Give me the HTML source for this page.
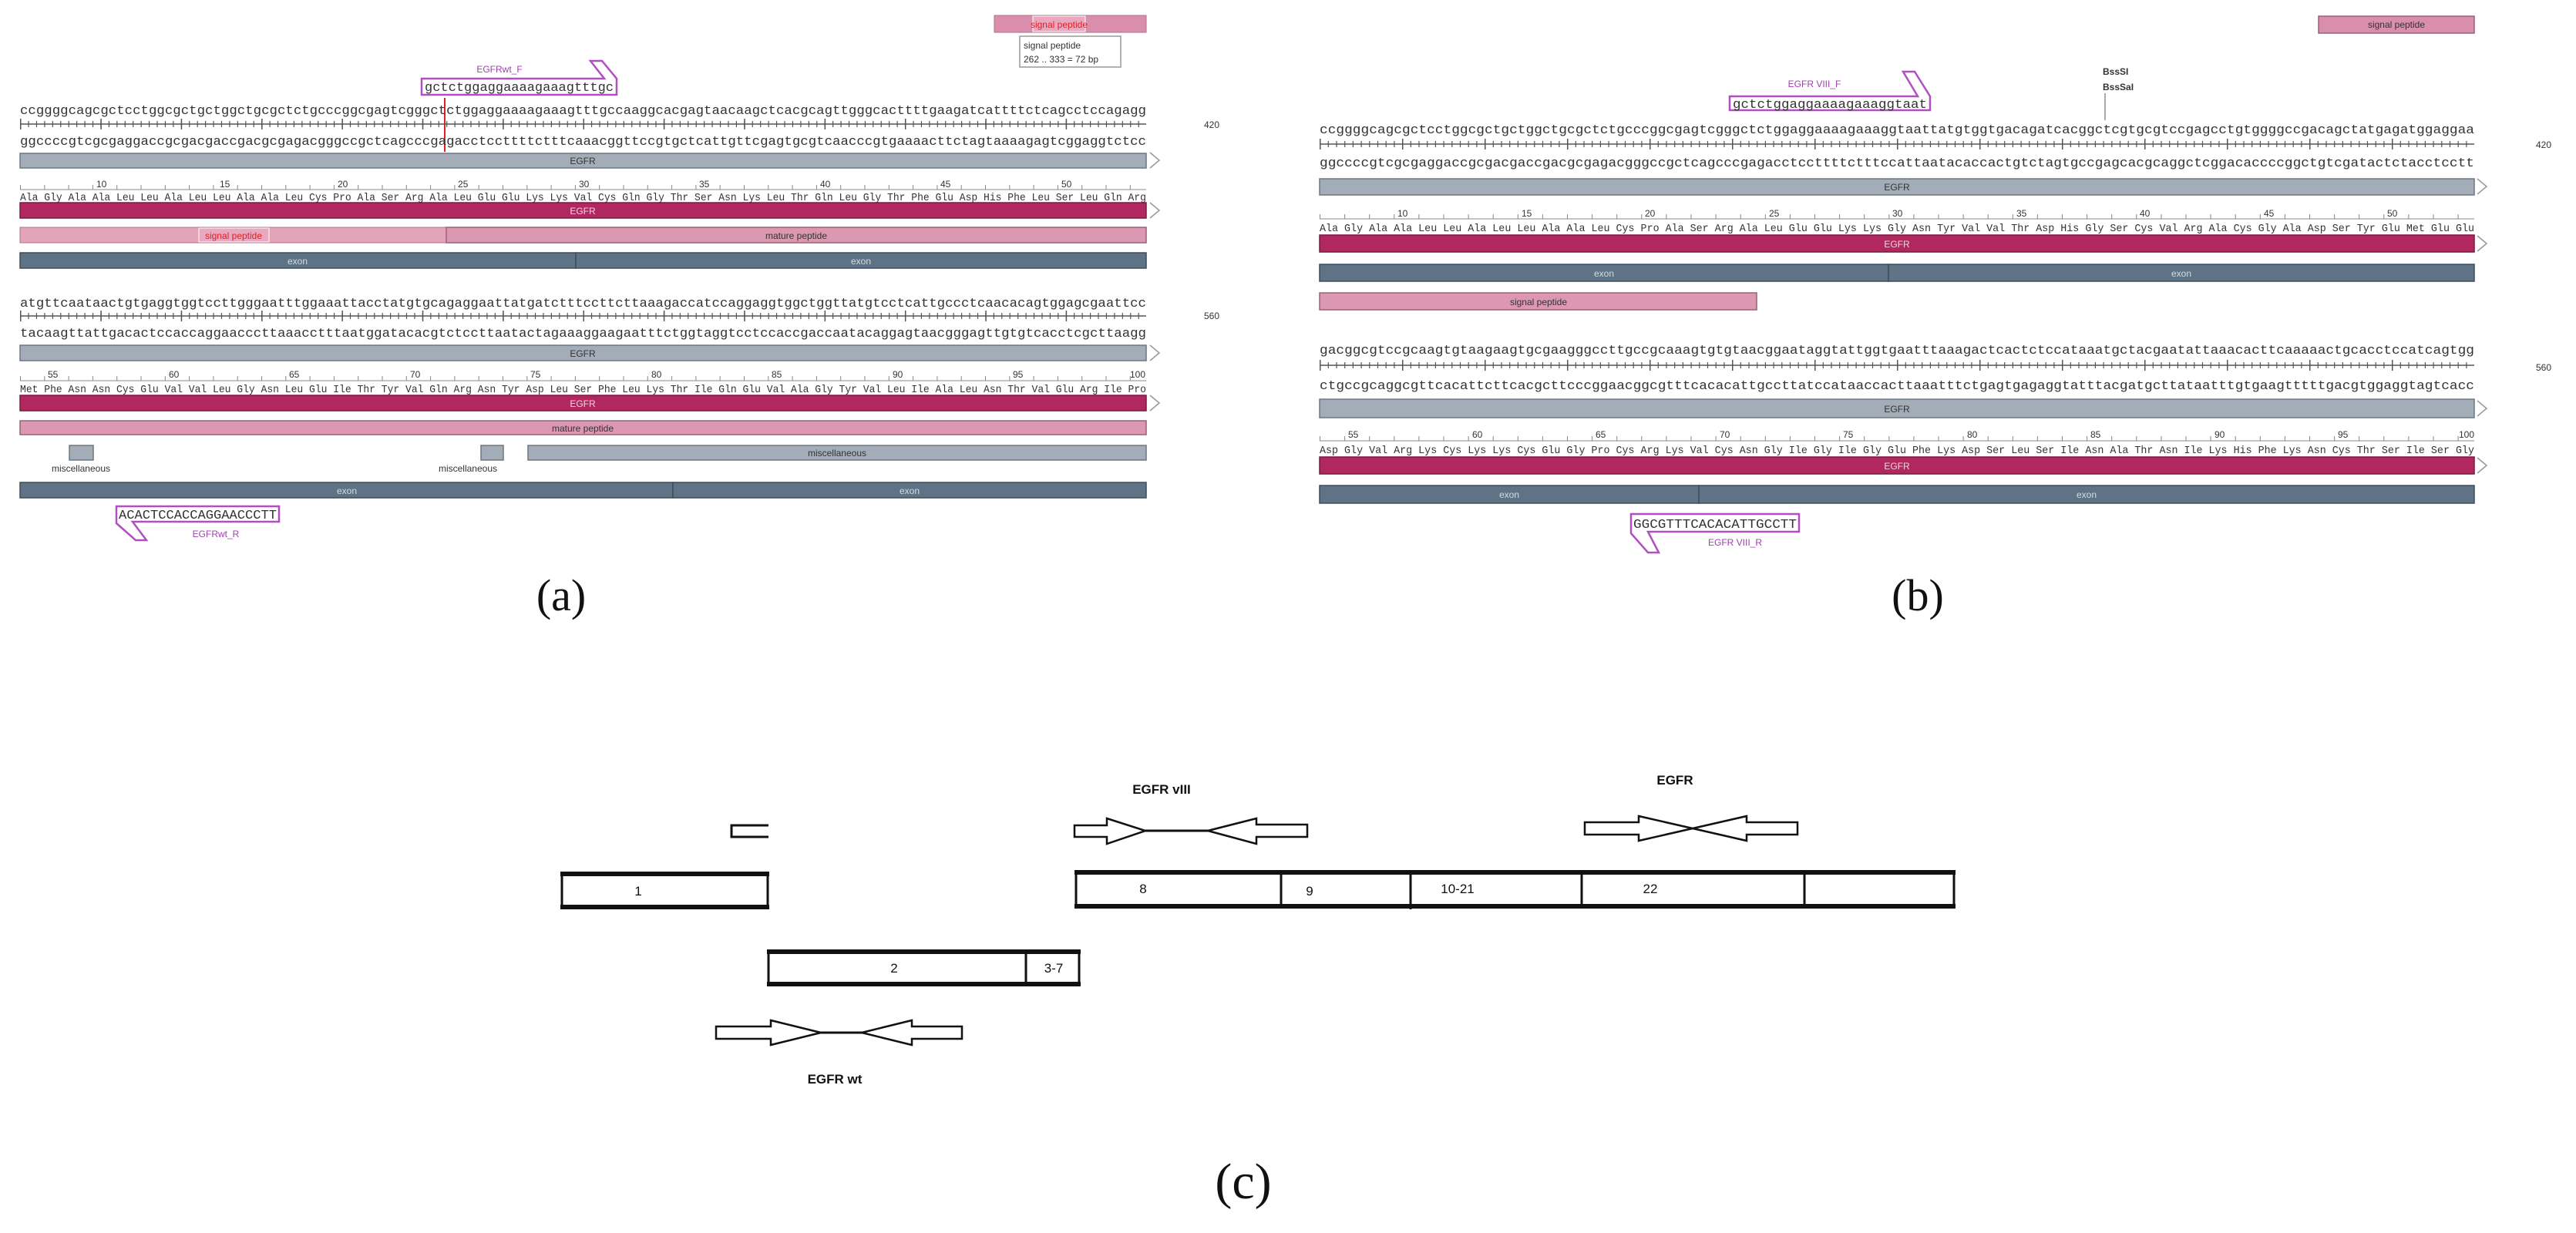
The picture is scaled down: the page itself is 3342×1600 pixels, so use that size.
<!DOCTYPE html>
<html><head><meta charset="utf-8"><style>
html,body{margin:0;padding:0;background:#fff;}
svg{display:block;}
.seq{font-family:"Liberation Mono",monospace;font-size:17px;fill:#333;}
.aa{font-family:"Liberation Sans",sans-serif;font-size:14px;fill:#333;}
.num{font-family:"Liberation Sans",sans-serif;font-size:12px;fill:#333;}
.bl{font-family:"Liberation Sans",sans-serif;font-size:12px;text-anchor:middle;}
.pr{font-family:"Liberation Sans",sans-serif;font-size:12px;fill:#a040b0;text-anchor:middle;}
.cap{font-family:"Liberation Serif",serif;font-size:58px;fill:#111;text-anchor:middle;}
.c{font-family:"Liberation Sans Narrow","Liberation Sans",sans-serif;font-size:17px;fill:#111;text-anchor:middle;}
.cb{font-family:"Liberation Sans Narrow","Liberation Sans",sans-serif;font-size:17px;font-weight:bold;fill:#111;text-anchor:middle;}
</style></head><body>
<svg width="3342" height="1600" viewBox="0 0 3342 1600" xmlns="http://www.w3.org/2000/svg">
<defs>
<g id="chev"><polyline points="0,0 12,10 0,20" fill="none" stroke="#999" stroke-width="1.5"/></g>
</defs>

<!-- ================= PANEL A ================= -->
<rect x="1290" y="20" width="197" height="22" fill="#d98fab" stroke="#b07088"/>
<rect x="1340" y="21" width="68" height="20" fill="#e9a8c0" stroke="#fff"/>
<text class="bl" x="1374" y="36" fill="#e02020">signal peptide</text>
<rect x="1323" y="47" width="131" height="40" fill="#fff" stroke="#999" stroke-width="1.5"/>
<text class="num" x="1328" y="63">signal peptide</text>
<text class="num" x="1328" y="81">262 .. 333 = 72 bp</text>

<text class="pr" x="648" y="94">EGFRwt_F</text>
<path d="M547,102 L784,102 L766,79 L781,79 L800,102 L800,123 L547,123 Z" fill="none" stroke="#b050c0" stroke-width="2.5"/>
<text class="seq" x="551" y="118" textLength="245" lengthAdjust="spacingAndGlyphs">gctctggaggaaaagaaagtttgc</text>
<line x1="577" y1="127" x2="577" y2="197" stroke="#e02020" stroke-width="2"/>

<text class="seq" x="26" y="148" textLength="1461" lengthAdjust="spacingAndGlyphs">ccggggcagcgctcctggcgctgctggctgcgctctgcccggcgagtcgggctctggaggaaaagaaagtttgccaaggcacgagtaacaagctcacgcagttgggcacttttgaagatcattttctcagcctccagagg</text>
<line x1="26" y1="161" x2="1487" y2="161" stroke="#555" stroke-width="1.5"/>
<line x1="26" y1="161" x2="1487" y2="161" stroke="#555" stroke-width="8" stroke-dasharray="1.2 9.236"/>
<line x1="26" y1="161" x2="1487" y2="161" stroke="#555" stroke-width="14" stroke-dasharray="1.5 102.86"/>
<text class="seq" x="26" y="188" textLength="1461" lengthAdjust="spacingAndGlyphs">ggccccgtcgcgaggaccgcgacgaccgacgcgagacgggccgctcagcccgagacctccttttctttcaaacggttccgtgctcattgttcgagtgcgtcaacccgtgaaaacttctagtaaaagagtcggaggtctcc</text>
<text class="num" x="1562" y="166">420</text>

<rect x="26" y="199" width="1461" height="19" fill="#a3adb7" stroke="#6d7680" stroke-width="1.5"/>
<text class="bl" x="756" y="213" fill="#333">EGFR</text>
<use href="#chev" x="1492" y="198"/>

<line x1="26" y1="246" x2="1487" y2="246" stroke="#888" stroke-width="1"/>
<line x1="26" y1="243" x2="1487" y2="243" stroke="#888" stroke-width="6" stroke-dasharray="1 30.3"/>
<text class="num" x="125" y="243">10</text><text class="num" x="285" y="243">15</text><text class="num" x="438" y="243">20</text><text class="num" x="594" y="243">25</text><text class="num" x="751" y="243">30</text><text class="num" x="907" y="243">35</text><text class="num" x="1064" y="243">40</text><text class="num" x="1220" y="243">45</text><text class="num" x="1377" y="243">50</text>
<text class="aa" x="26" y="260" textLength="1461" lengthAdjust="spacingAndGlyphs" style="font-family:'Liberation Mono',monospace">Ala Gly Ala Ala Leu Leu Ala Leu Leu Ala Ala Leu Cys Pro Ala Ser Arg Ala Leu Glu Glu Lys Lys Val Cys Gln Gly Thr Ser Asn Lys Leu Thr Gln Leu Gly Thr Phe Glu Asp His Phe Leu Ser Leu Gln Arg</text>
<rect x="26" y="263" width="1461" height="20" fill="#b0285f" stroke="#7a1a40" stroke-width="1.5"/>
<text class="bl" x="756" y="278" fill="#f3d6e2">EGFR</text>
<use href="#chev" x="1492" y="263"/>

<rect x="26" y="295" width="553" height="20" fill="#e3a3bb" stroke="#b07088" stroke-width="1"/>
<rect x="579" y="295" width="908" height="20" fill="#dc97b1" stroke="#9a6078" stroke-width="1.5"/>
<rect x="258" y="296" width="91" height="18" fill="#e9a8c0" stroke="#fff"/>
<text class="bl" x="303" y="310" fill="#e02020">signal peptide</text>
<text class="bl" x="1033" y="310" fill="#333">mature peptide</text>

<rect x="26" y="328" width="721" height="20" fill="#5e7385" stroke="#3d4d5a" stroke-width="1.5"/>
<rect x="747" y="328" width="740" height="20" fill="#5e7385" stroke="#3d4d5a" stroke-width="1.5"/>
<text class="bl" x="386" y="343" fill="#d5dce2">exon</text>
<text class="bl" x="1117" y="343" fill="#d5dce2">exon</text>

<!-- block 2 a -->
<text class="seq" x="26" y="398" textLength="1461" lengthAdjust="spacingAndGlyphs">atgttcaataactgtgaggtggtccttgggaatttggaaattacctatgtgcagaggaattatgatctttccttcttaaagaccatccaggaggtggctggttatgtcctcattgccctcaacacagtggagcgaattcc</text>
<line x1="26" y1="410" x2="1487" y2="410" stroke="#555" stroke-width="1.5"/>
<line x1="26" y1="410" x2="1487" y2="410" stroke="#555" stroke-width="8" stroke-dasharray="1.2 9.236"/>
<line x1="26" y1="410" x2="1487" y2="410" stroke="#555" stroke-width="14" stroke-dasharray="1.5 102.86"/>
<text class="seq" x="26" y="437" textLength="1461" lengthAdjust="spacingAndGlyphs">tacaagttattgacactccaccaggaacccttaaacctttaatggatacacgtctccttaatactagaaaggaagaatttctggtaggtcctccaccgaccaatacaggagtaacgggagttgtgtcacctcgcttaagg</text>
<text class="num" x="1562" y="414">560</text>

<rect x="26" y="448" width="1461" height="20" fill="#a3adb7" stroke="#6d7680" stroke-width="1.5"/>
<text class="bl" x="756" y="463" fill="#333">EGFR</text>
<use href="#chev" x="1492" y="448"/>

<line x1="26" y1="494" x2="1487" y2="494" stroke="#888" stroke-width="1"/>
<line x1="26" y1="491" x2="1487" y2="491" stroke="#888" stroke-width="6" stroke-dasharray="1 30.3"/>
<text class="num" x="62" y="490">55</text><text class="num" x="219" y="490">60</text><text class="num" x="375" y="490">65</text><text class="num" x="532" y="490">70</text><text class="num" x="688" y="490">75</text><text class="num" x="845" y="490">80</text><text class="num" x="1001" y="490">85</text><text class="num" x="1158" y="490">90</text><text class="num" x="1314" y="490">95</text><text class="num" x="1466" y="490">100</text>
<text class="aa" x="26" y="509" textLength="1461" lengthAdjust="spacingAndGlyphs" style="font-family:'Liberation Mono',monospace">Met Phe Asn Asn Cys Glu Val Val Leu Gly Asn Leu Glu Ile Thr Tyr Val Gln Arg Asn Tyr Asp Leu Ser Phe Leu Lys Thr Ile Gln Glu Val Ala Gly Tyr Val Leu Ile Ala Leu Asn Thr Val Glu Arg Ile Pro</text>
<rect x="26" y="513" width="1461" height="20" fill="#b0285f" stroke="#7a1a40" stroke-width="1.5"/>
<text class="bl" x="756" y="528" fill="#f3d6e2">EGFR</text>
<use href="#chev" x="1492" y="513"/>

<rect x="26" y="546" width="1461" height="18" fill="#dc97b1" stroke="#9a6078" stroke-width="1.5"/>
<text class="bl" x="756" y="560" fill="#333">mature peptide</text>

<rect x="90" y="578" width="31" height="19" fill="#a3adb7" stroke="#6d7680" stroke-width="1.5"/>
<rect x="624" y="578" width="29" height="19" fill="#a3adb7" stroke="#6d7680" stroke-width="1.5"/>
<rect x="685" y="578" width="802" height="19" fill="#a3adb7" stroke="#6d7680" stroke-width="1.5"/>
<text class="bl" x="1086" y="592" fill="#333">miscellaneous</text>
<text class="bl" x="105" y="612" fill="#333">miscellaneous</text>
<text class="bl" x="607" y="612" fill="#333">miscellaneous</text>

<rect x="26" y="626" width="847" height="20" fill="#5e7385" stroke="#3d4d5a" stroke-width="1.5"/>
<rect x="873" y="626" width="614" height="20" fill="#5e7385" stroke="#3d4d5a" stroke-width="1.5"/>
<text class="bl" x="450" y="641" fill="#d5dce2">exon</text>
<text class="bl" x="1180" y="641" fill="#d5dce2">exon</text>

<path d="M151,657 L362,657 L362,677 L172,677 L190,701 L176,701 L151,679 Z" fill="none" stroke="#b050c0" stroke-width="2.5"/>
<text class="seq" x="154" y="673" textLength="205" lengthAdjust="spacingAndGlyphs">ACACTCCACCAGGAACCCTT</text>
<text class="pr" x="280" y="697">EGFRwt_R</text>

<text class="cap" x="728" y="792">(a)</text>

<!-- ================= PANEL B ================= -->
<rect x="3008" y="21" width="202" height="22" fill="#d98fab" stroke="#9a6078" stroke-width="1.5"/>
<text class="bl" x="3109" y="36" fill="#333">signal peptide</text>

<text class="num" x="2728" y="97" style="font-weight:bold">BssSI</text>
<text class="num" x="2728" y="117" style="font-weight:bold">BssSaI</text>
<line x1="2731" y1="121" x2="2731" y2="156" stroke="#555" stroke-width="1"/>

<text class="pr" x="2354" y="113">EGFR VIII_F</text>
<path d="M2244,125 L2488,125 L2469,93 L2484,93 L2504,125 L2504,143 L2244,143 Z" fill="none" stroke="#b050c0" stroke-width="2.5"/>
<text class="seq" x="2248" y="140" textLength="252" lengthAdjust="spacingAndGlyphs">gctctggaggaaaagaaaggtaat</text>

<text class="seq" x="1712" y="173" textLength="1498" lengthAdjust="spacingAndGlyphs">ccggggcagcgctcctggcgctgctggctgcgctctgcccggcgagtcgggctctggaggaaaagaaaggtaattatgtggtgacagatcacggctcgtgcgtccgagcctgtggggccgacagctatgagatggaggaa</text>
<line x1="1712" y1="187" x2="3210" y2="187" stroke="#555" stroke-width="1.5"/>
<line x1="1712" y1="187" x2="3210" y2="187" stroke="#555" stroke-width="8" stroke-dasharray="1.2 9.5"/>
<line x1="1712" y1="187" x2="3210" y2="187" stroke="#555" stroke-width="14" stroke-dasharray="1.5 105.5"/>
<text class="seq" x="1712" y="216" textLength="1498" lengthAdjust="spacingAndGlyphs">ggccccgtcgcgaggaccgcgacgaccgacgcgagacgggccgctcagcccgagacctccttttctttccattaatacaccactgtctagtgccgagcacgcaggctcggacaccccggctgtcgatactctacctcctt</text>
<text class="num" x="3290" y="192">420</text>

<rect x="1712" y="232" width="1498" height="21" fill="#a3adb7" stroke="#6d7680" stroke-width="1.5"/>
<text class="bl" x="2461" y="247" fill="#333">EGFR</text>
<use href="#chev" x="3214" y="232"/>

<line x1="1712" y1="284" x2="3210" y2="284" stroke="#888" stroke-width="1"/>
<line x1="1712" y1="281" x2="3210" y2="281" stroke="#888" stroke-width="6" stroke-dasharray="1 31.1"/>
<text class="num" x="1813" y="281">10</text><text class="num" x="1974" y="281">15</text><text class="num" x="2134" y="281">20</text><text class="num" x="2295" y="281">25</text><text class="num" x="2455" y="281">30</text><text class="num" x="2616" y="281">35</text><text class="num" x="2776" y="281">40</text><text class="num" x="2937" y="281">45</text><text class="num" x="3097" y="281">50</text>
<text class="aa" x="1712" y="300" textLength="1498" lengthAdjust="spacingAndGlyphs" style="font-family:'Liberation Mono',monospace">Ala Gly Ala Ala Leu Leu Ala Leu Leu Ala Ala Leu Cys Pro Ala Ser Arg Ala Leu Glu Glu Lys Lys Gly Asn Tyr Val Val Thr Asp His Gly Ser Cys Val Arg Ala Cys Gly Ala Asp Ser Tyr Glu Met Glu Glu</text>
<rect x="1712" y="305" width="1498" height="22" fill="#b0285f" stroke="#7a1a40" stroke-width="1.5"/>
<text class="bl" x="2461" y="321" fill="#f3d6e2">EGFR</text>
<use href="#chev" x="3214" y="306"/>

<rect x="1712" y="343" width="738" height="22" fill="#5e7385" stroke="#3d4d5a" stroke-width="1.5"/>
<rect x="2450" y="343" width="760" height="22" fill="#5e7385" stroke="#3d4d5a" stroke-width="1.5"/>
<text class="bl" x="2081" y="359" fill="#d5dce2">exon</text>
<text class="bl" x="2830" y="359" fill="#d5dce2">exon</text>

<rect x="1712" y="380" width="567" height="22" fill="#dc97b1" stroke="#9a6078" stroke-width="1.5"/>
<text class="bl" x="1996" y="396" fill="#333">signal peptide</text>

<!-- block 2 b -->
<text class="seq" x="1712" y="459" textLength="1498" lengthAdjust="spacingAndGlyphs">gacggcgtccgcaagtgtaagaagtgcgaagggccttgccgcaaagtgtgtaacggaataggtattggtgaatttaaagactcactctccataaatgctacgaatattaaacacttcaaaaactgcacctccatcagtgg</text>
<line x1="1712" y1="474" x2="3210" y2="474" stroke="#555" stroke-width="1.5"/>
<line x1="1712" y1="474" x2="3210" y2="474" stroke="#555" stroke-width="8" stroke-dasharray="1.2 9.5"/>
<line x1="1712" y1="474" x2="3210" y2="474" stroke="#555" stroke-width="14" stroke-dasharray="1.5 105.5"/>
<text class="seq" x="1712" y="505" textLength="1498" lengthAdjust="spacingAndGlyphs">ctgccgcaggcgttcacattcttcacgcttcccggaacggcgtttcacacattgccttatccataaccacttaaatttctgagtgagaggtatttacgatgcttataatttgtgaagtttttgacgtggaggtagtcacc</text>
<text class="num" x="3290" y="481">560</text>

<rect x="1712" y="518" width="1498" height="24" fill="#a3adb7" stroke="#6d7680" stroke-width="1.5"/>
<text class="bl" x="2461" y="535" fill="#333">EGFR</text>
<use href="#chev" x="3214" y="520"/>

<line x1="1712" y1="572" x2="3210" y2="572" stroke="#888" stroke-width="1"/>
<line x1="1712" y1="569" x2="3210" y2="569" stroke="#888" stroke-width="6" stroke-dasharray="1 31.1"/>
<text class="num" x="1749" y="568">55</text><text class="num" x="1910" y="568">60</text><text class="num" x="2070" y="568">65</text><text class="num" x="2231" y="568">70</text><text class="num" x="2391" y="568">75</text><text class="num" x="2552" y="568">80</text><text class="num" x="2712" y="568">85</text><text class="num" x="2873" y="568">90</text><text class="num" x="3033" y="568">95</text><text class="num" x="3190" y="568">100</text>
<text class="aa" x="1712" y="588" textLength="1498" lengthAdjust="spacingAndGlyphs" style="font-family:'Liberation Mono',monospace">Asp Gly Val Arg Lys Cys Lys Lys Cys Glu Gly Pro Cys Arg Lys Val Cys Asn Gly Ile Gly Ile Gly Glu Phe Lys Asp Ser Leu Ser Ile Asn Ala Thr Asn Ile Lys His Phe Lys Asn Cys Thr Ser Ile Ser Gly</text>
<rect x="1712" y="593" width="1498" height="22" fill="#b0285f" stroke="#7a1a40" stroke-width="1.5"/>
<text class="bl" x="2461" y="609" fill="#f3d6e2">EGFR</text>
<use href="#chev" x="3214" y="594"/>

<rect x="1712" y="630" width="492" height="23" fill="#5e7385" stroke="#3d4d5a" stroke-width="1.5"/>
<rect x="2204" y="630" width="1006" height="23" fill="#5e7385" stroke="#3d4d5a" stroke-width="1.5"/>
<text class="bl" x="1958" y="646" fill="#d5dce2">exon</text>
<text class="bl" x="2707" y="646" fill="#d5dce2">exon</text>

<path d="M2116,667 L2334,667 L2334,690 L2138,690 L2152,717 L2138,717 L2116,692 Z" fill="none" stroke="#b050c0" stroke-width="2.5"/>
<text class="seq" x="2119" y="685" textLength="212" lengthAdjust="spacingAndGlyphs">GGCGTTTCACACATTGCCTT</text>
<text class="pr" x="2251" y="708">EGFR VIII_R</text>

<text class="cap" x="2488" y="792">(b)</text>

<!-- ================= PANEL C ================= -->
<g fill="#fff" stroke="#111">
<rect x="729" y="1134" width="267" height="43" stroke-width="3"/>
<line x1="727" y1="1134" x2="998" y2="1134" stroke-width="6"/>
<line x1="727" y1="1177" x2="998" y2="1177" stroke-width="6"/>

<rect x="1396" y="1132" width="1139" height="44" stroke-width="3"/>
<line x1="1394" y1="1132" x2="2537" y2="1132" stroke-width="6"/>
<line x1="1394" y1="1176" x2="2537" y2="1176" stroke-width="6"/>
<line x1="1662" y1="1132" x2="1662" y2="1178" stroke-width="3"/>
<line x1="1830" y1="1132" x2="1830" y2="1180" stroke-width="3"/>
<line x1="2052" y1="1132" x2="2052" y2="1178" stroke-width="3"/>
<line x1="2341" y1="1132" x2="2341" y2="1178" stroke-width="3"/>

<rect x="997" y="1235" width="403" height="42" stroke-width="3"/>
<line x1="995" y1="1235" x2="1402" y2="1235" stroke-width="6"/>
<line x1="995" y1="1277" x2="1402" y2="1277" stroke-width="6"/>
<line x1="1331" y1="1235" x2="1331" y2="1280" stroke-width="3"/>

<path d="M997,1071 L949,1071 L949,1086 L997,1086" fill="none" stroke-width="3"/>

<polygon points="1394,1071 1436,1071 1436,1062 1486,1078 1436,1095 1436,1086 1394,1086" stroke-width="2.5"/>
<line x1="1486" y1="1078" x2="1567" y2="1078" stroke-width="3"/>
<polygon points="1567,1078 1630,1062 1630,1070 1696,1070 1696,1086 1630,1086 1630,1095" stroke-width="2.5"/>

<polygon points="2056,1067 2126,1067 2126,1059 2196,1075 2126,1091 2126,1083 2056,1083" stroke-width="2.5"/>
<polygon points="2196,1075 2266,1059 2266,1067 2332,1067 2332,1083 2266,1083 2266,1091" stroke-width="2.5"/>

<polygon points="929,1332 1000,1332 1000,1324 1065,1340 1000,1356 1000,1348 929,1348" stroke-width="2.5"/>
<line x1="1065" y1="1340" x2="1118" y2="1340" stroke-width="3"/>
<polygon points="1118,1340 1183,1324 1183,1332 1248,1332 1248,1348 1183,1348 1183,1356" stroke-width="2.5"/>
</g>

<text class="c" x="828" y="1162">1</text>
<text class="c" x="1483" y="1159">8</text>
<text class="c" x="1699" y="1162">9</text>
<text class="c" x="1891" y="1159">10-21</text>
<text class="c" x="2141" y="1159">22</text>
<text class="c" x="1160" y="1262">2</text>
<text class="c" x="1367" y="1262">3-7</text>

<text class="cb" x="1507" y="1030">EGFR vIII</text>
<text class="cb" x="2173" y="1018">EGFR</text>
<text class="cb" x="1083" y="1406">EGFR wt</text>

<text class="cap" x="1613" y="1555" style="font-size:66px">(c)</text>
</svg>
</body></html>
